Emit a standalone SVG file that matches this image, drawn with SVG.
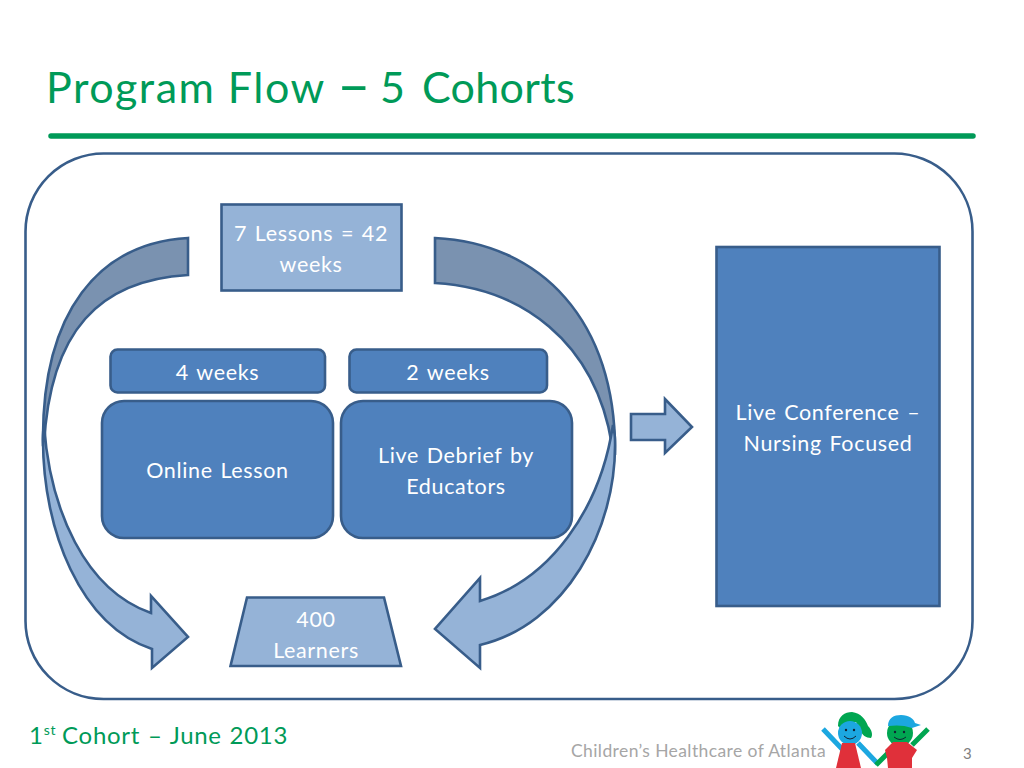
<svg xmlns="http://www.w3.org/2000/svg" width="1024" height="768" viewBox="0 0 1024 768">
<style>
text{font-family:"Lato","Open Sans",sans-serif}
.s{stroke:#385d8a;stroke-width:2.6;stroke-linejoin:miter}
.m{fill:#4f81bd}
.l{fill:#95b3d7}
.d{fill:#7a92b0}
.t{fill:#fff;font-size:21.5px;text-anchor:middle;letter-spacing:.65px;word-spacing:1.6px}
.g{fill:#009a58}
</style>
<rect width="1024" height="768" fill="#fff"/>
<text x="46" y="103" class="g" font-size="43" letter-spacing="1.5" id="title">Program Flow <tspan x="337" font-size="58" dy="2">–</tspan><tspan x="380" dy="-2">5</tspan><tspan x="422" letter-spacing=".3">Cohorts</tspan></text>
<line x1="51" y1="136" x2="973" y2="136" stroke="#009a58" stroke-width="5.5" stroke-linecap="round"/>
<rect id="frame" x="25.500" y="153.500" width="947" height="545.500" rx="78" ry="78" fill="#fff" stroke="#385d8a" stroke-width="2.600"/>
<g id="connectors">
<path class="s d" d="M188 238V275C100 280 50 330 44 445L43 445C41 310 100 243 188 238Z"/>
<path class="s l" d="M43 440C43 530 80 625 152 649V668L188 637L151 596V613C85 590 50 510 44 425C43 430 43 435 43 440Z"/>
<path class="s d" d="M435 238V283C520 288 595 340 612 445L615 455C617 320 540 243 435 238Z"/>
<path class="s l" d="M615 440C617 530 565 625 480 645V668L435 629L480 578V601C550 580 600 510 613 425C614 430 615 435 615 440Z"/>
<path class="s l" d="M631 414H665V399L692 427L665 453V440H631Z"/>
</g>
<g id="lessons"><rect class="s l" x="221.500" y="204.500" width="180" height="86"/><text class="t" x="311" y="241">7 Lessons = 42</text><text class="t" x="311" y="272">weeks</text></g>
<g id="four-weeks"><rect class="s m" x="110.500" y="349.500" width="214.500" height="43" rx="7"/><text class="t" x="217.500" y="380">4 weeks</text></g>
<g id="two-weeks"><rect class="s m" x="349.500" y="349.500" width="197.500" height="43" rx="7"/><text class="t" x="448" y="380">2 weeks</text></g>
<g id="online"><rect class="s m" x="102" y="401" width="231" height="137" rx="22"/><text class="t" x="217.500" y="478">Online Lesson</text></g>
<g id="debrief"><rect class="s m" x="341" y="401" width="231" height="137" rx="22"/><text class="t" x="456" y="463">Live Debrief by</text><text class="t" x="456" y="494">Educators</text></g>
<g id="conference"><rect class="s m" x="716.500" y="247" width="223" height="359"/><text class="t" x="828" y="420">Live Conference –</text><text class="t" x="828" y="451">Nursing Focused</text></g>
<g id="learners"><path class="s l" d="M247 597.500H384L401 666H230.500Z"/><text class="t" x="316" y="627">400</text><text class="t" x="316" y="658">Learners</text></g>
<text x="29" y="744" class="g" font-size="24" letter-spacing=".7" word-spacing="1">1<tspan font-size="14" dy="-9">st</tspan><tspan dy="9" dx="6">Cohort – June 2013</tspan></text>
<text x="571" y="757" fill="#a6a6a6" font-size="17.500" letter-spacing=".4">Children’s Healthcare of Atlanta</text>
<text x="963" y="759" fill="#7f7f7f" font-size="15">3</text>
<g id="logo">
<path d="M823 729L843 750M858 743L878 764" stroke="#1ca7e0" stroke-width="5" fill="none"/>
<path d="M838 726C838 716 845 712 852 712C861 713 866 720 868 726C872 730 873 735 871 738C866 738 862 735 860 730L856 722L840 728Z" fill="#00a651"/>
<circle cx="850" cy="733" r="12" fill="#1ca7e0"/>
<circle cx="846" cy="730" r="1.200" fill="#123"/><circle cx="854" cy="730" r="1.200" fill="#123"/>
<path d="M844 736Q850 742 856 736" fill="none" stroke="#123" stroke-width="1"/>
<path d="M842 743H855L861 768H836Z" fill="#e0303a"/>
<path d="M912 745L928 729M893 748L876 765" stroke="#00a651" stroke-width="5" fill="none"/>
<circle cx="900" cy="733" r="13" fill="#00a651"/>
<path d="M888 726C888 718 894 715 901 715C909 715 914 719 915 723L921 725L912 728C904 725 896 725 888 726Z" fill="#1ca7e0"/>
<circle cx="895" cy="732" r="1.200" fill="#123"/><circle cx="904" cy="732" r="1.200" fill="#123"/>
<path d="M894 737Q900 742 906 737" fill="none" stroke="#123" stroke-width="1"/>
<path d="M893 742H907L917 750L912 758V768H888L887 758L885 750Z" fill="#e0303a"/>
</g>
</svg>
